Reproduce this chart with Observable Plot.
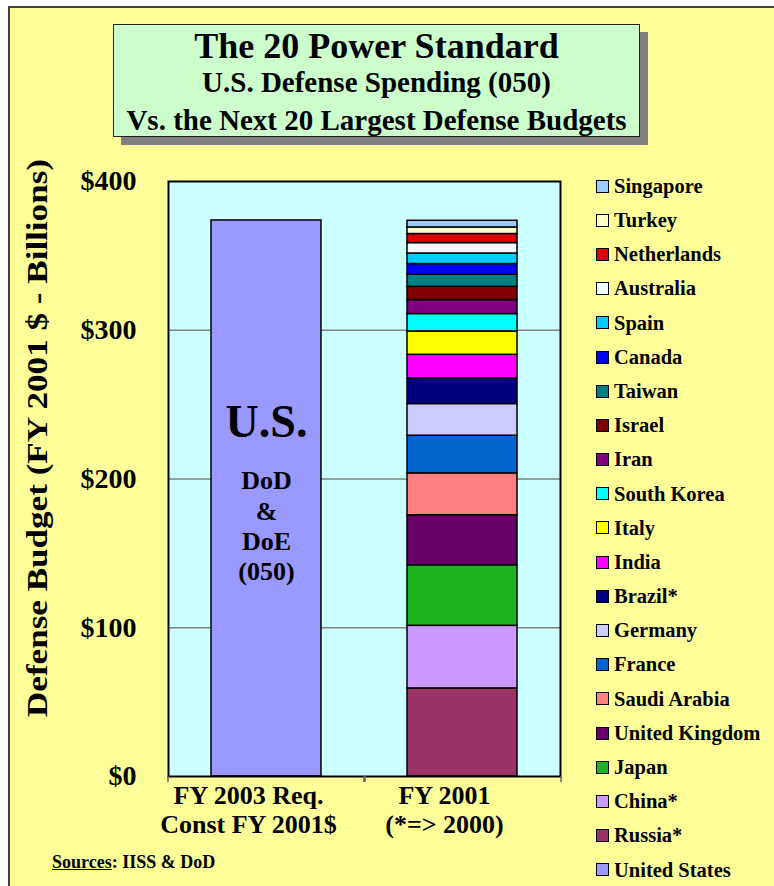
<!DOCTYPE html>
<html>
<head>
<meta charset="utf-8">
<script src="https://cdn.jsdelivr.net/npm/d3@7"></script>
<script src="https://cdn.jsdelivr.net/npm/@observablehq/plot@0.6"></script>
<style>
  html, body { margin: 0; padding: 0; background: #ffffff; }
  #page { position: relative; width: 774px; height: 886px; overflow: hidden; font-family: "Liberation Serif", "Times New Roman", serif; color: #000; }
  #panel { position: absolute; left: 8px; top: 6px; right: 0; bottom: 0; background: #ffff99; border-left: 2px solid #404040; border-top: 2px solid #404040; }
  #titlebox { position: absolute; left: 113px; top: 24px; width: 525px; height: 111px; background: #ccffcc; border: 1px solid #222; box-shadow: 8px 8px 0 #808080; }
  .tl { position: absolute; left: 0; right: 0; text-align: center; font-weight: bold; white-space: nowrap; }
  #chart { position: absolute; left: 0; top: 160px; }
  #legend { position: absolute; left: 596px; top: 169px; }
  .row { height: 34.2px; display: flex; align-items: center; }
  .sw { width: 13px; height: 13px; box-sizing: border-box; border: 1.5px solid #000; margin-right: 5px; flex: none; }
  .lab { font-size: 20.5px; font-weight: bold; line-height: 1; white-space: nowrap; }
  #sources { position: absolute; left: 52px; top: 853px; font-size: 18px; line-height: 18px; font-weight: bold; white-space: nowrap; }
</style>
</head>
<body>
<div id="page">
  <div id="panel"></div>
  <div id="titlebox">
    <div class="tl" id="t1" style="font-size:36px; line-height:36px; top:3px;"></div>
    <div class="tl" id="t2" style="font-size:29px; line-height:29px; top:43px;"></div>
    <div class="tl" id="t3" style="font-size:29px; line-height:29px; top:81px;"></div>
  </div>
  <div id="chart"></div>
  <div id="legend"></div>
  <div id="sources"><u>Sources</u>: IISS &amp; DoD</div>
</div>
<script>
// ---- Data ----
const titleLines = ["The 20 Power Standard", "U.S. Defense Spending (050)", "Vs. the Next 20 Largest Defense Budgets"];
const yLabel = "Defense Budget (FY 2001 $ - Billions)";
const groups = ["FY 2003 Req.\nConst FY 2001$", "FY 2001\n(*=> 2000)"];
const yTicks = [0, 100, 200, 300, 400];
const usName = "United States";
const usValue = 373.8;
const usColor = "#9999ff";
// stacked from bottom to top
const countries = ["Russia*", "China*", "Japan", "United Kingdom", "Saudi Arabia", "France", "Germany", "Brazil*", "India", "Italy", "South Korea", "Iran", "Israel", "Taiwan", "Canada", "Spain", "Australia", "Netherlands", "Turkey", "Singapore"];
const budgets = [59.2, 42.1, 40.7, 33.6, 28.2, 25.3, 21.3, 17.2, 15.9, 15.7, 11.7, 9.4, 8.9, 8.1, 7.2, 7.1, 7.0, 6.1, 4.4, 4.5];
const colors = ["#993366", "#cc99ff", "#1fb31f", "#660066", "#ff8080", "#0066cc", "#ccccff", "#000080", "#ff00ff", "#ffff00", "#00ffff", "#800080", "#800000", "#008080", "#0000ff", "#00ccff", "#f2ffff", "#e00000", "#ffffcc", "#99ccff"];
const barText = ["U.S.", "DoD\n&\nDoE\n(050)"];

// ---- Build ----
document.getElementById("t1").textContent = titleLines[0];
document.getElementById("t2").textContent = titleLines[1];
document.getElementById("t3").textContent = titleLines[2];

const data = [{group: groups[0], country: usName, value: usValue}]
  .concat(countries.map((c, i) => ({group: groups[1], country: c, value: budgets[i]})));

const chart = Plot.plot({
  width: 585,
  height: 690,
  marginLeft: 168,
  marginRight: 25,
  marginTop: 21,
  marginBottom: 74,
  style: {fontFamily: "Liberation Serif, Times New Roman, serif", background: "transparent", overflow: "visible", color: "#000"},
  x: {domain: groups, paddingInner: 0.44, paddingOuter: 0.22, axis: null},
  y: {domain: [0, 400], axis: null},
  color: {domain: [usName, ...countries], range: [usColor, ...colors]},
  marks: [
    Plot.frame({fill: "#ccffff"}),
    Plot.gridY(yTicks.filter(d => d > 0 && d < 400), {stroke: "#808080", strokeOpacity: 1, strokeWidth: 1.5}),
    Plot.barY(data, Plot.stackY({x: "group", y: "value", fill: "country", stroke: "#000", strokeWidth: 1.5})),
    Plot.frame({stroke: "#000", strokeWidth: 2}),
    Plot.axisY(yTicks, {tickFormat: d => "$" + d, tickSize: 0, tickPadding: 32, fontSize: 28, fontWeight: "bold", label: null, fill: "#000"}),
    Plot.axisX({tickSize: 0, tickPadding: 8, fontSize: 26, fontWeight: "bold", dx: -18, lineHeight: 1.08, label: null, fill: "#000"}),
    Plot.axisX({tickSize: 6, tickFormat: () => "", dx: -98.5, label: null, stroke: "#606060", strokeWidth: 1.5}),
    Plot.axisX({tickSize: 6, tickFormat: () => "", dx: 98.5, label: null, stroke: "#606060", strokeWidth: 1.5}),
    Plot.text([groups[0]], {x: d => d, frameAnchor: "middle", text: () => barText[0], fontSize: 46, fontWeight: "bold", dy: -57, fill: "#000"}),
    Plot.text([groups[0]], {x: d => d, frameAnchor: "middle", text: () => barText[1], fontSize: 26, fontWeight: "bold", dy: 46, lineHeight: 30.3 / 26, fill: "#000"}),
    Plot.text([yLabel], {text: d => d, frameAnchor: "left", textAnchor: "start", dx: -131, dy: 238, rotate: -90, fontSize: 30, fontWeight: "bold", fill: "#000"})
  ]
});
document.getElementById("chart").appendChild(chart);

// stretch y label to its original length
chart.querySelectorAll("text").forEach(t => {
  if (t.textContent === yLabel) {
    t.setAttribute("textLength", "558");
    t.setAttribute("lengthAdjust", "spacingAndGlyphs");
  }
});

// legend (top to bottom)
const legend = document.getElementById("legend");
const legNames = countries.slice().reverse().concat([usName]);
const legColors = colors.slice().reverse().concat([usColor]);
legNames.forEach((n, i) => {
  const row = document.createElement("div");
  row.className = "row";
  const sw = document.createElement("div");
  sw.className = "sw";
  sw.style.background = legColors[i];
  const lab = document.createElement("div");
  lab.className = "lab";
  lab.textContent = n;
  row.appendChild(sw);
  row.appendChild(lab);
  legend.appendChild(row);
});
</script>
</body>
</html>
